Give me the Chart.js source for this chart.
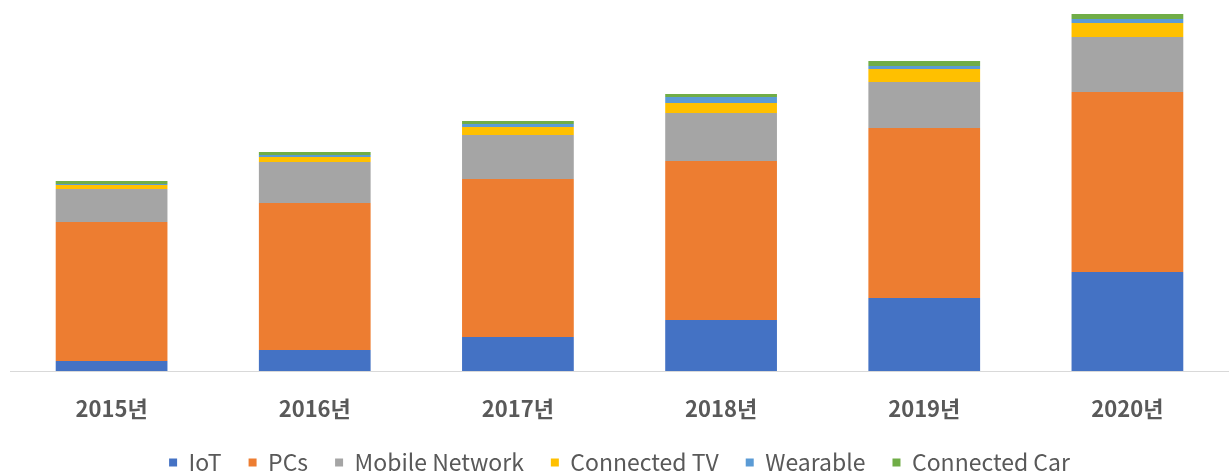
<!DOCTYPE html>
<html>
<head>
<meta charset="utf-8">
<script src="https://cdn.jsdelivr.net/npm/chart.js@4/dist/chart.umd.min.js"></script>
<style>
    html, body { margin: 0; padding: 0; background: #ffffff; }
    #wrap { width: 1229px; height: 475px; }
</style>
</head>
<body>
<div id="wrap"><canvas id="myChart"></canvas></div>
<script>
const labels = ['2015년', '2016년', '2017년', '2018년', '2019년', '2020년'];

const iot = [10, 21, 34, 51, 73, 99];
const pcs = [139, 147, 158, 159, 170, 180];
const mobile = [33, 41, 44, 48, 46, 55];
const connectedTv = [4, 5, 8, 10, 13, 14];
const wearable = [1, 2, 3, 6, 3, 4];
const connectedCar = [3, 3, 3, 3, 5, 5];

const textColor = '#595959';
const fontFamily = "'Noto Sans CJK KR', 'Noto Sans', sans-serif";

const data = {
    labels: labels,
    datasets: [
        { label: 'IoT', data: iot, backgroundColor: '#4472C4' },
        { label: 'PCs', data: pcs, backgroundColor: '#ED7D31' },
        { label: 'Mobile Network', data: mobile, backgroundColor: '#A5A5A5' },
        { label: 'Connected TV', data: connectedTv, backgroundColor: '#FFC000' },
        { label: 'Wearable', data: wearable, backgroundColor: '#5B9BD5' },
        { label: 'Connected Car', data: connectedCar, backgroundColor: '#70AD47' },
    ]
};

const config = {
    type: 'bar',
    data: data,
    options: {
        responsive: true,
        maintainAspectRatio: false,
        animation: false,
        layout: {
            padding: { top: 11, left: 10, right: 0, bottom: -9 }
        },
        datasets: {
            bar: {
                barPercentage: 0.55,
                categoryPercentage: 1.0,
                borderWidth: 0
            }
        },
        plugins: {
            tooltip: { enabled: false },
            legend: {
                position: 'bottom',
                labels: {
                    color: textColor,
                    boxWidth: 8,
                    boxHeight: 8,
                    padding: 27,
                    font: { family: fontFamily, size: 23 }
                }
            }
        },
        scales: {
            x: {
                stacked: true,
                grid: { display: false, drawTicks: false },
                border: { display: true, color: '#d9d9d9', width: 1 },
                ticks: {
                    color: textColor,
                    padding: 24,
                    font: { family: fontFamily, size: 22, weight: 'bold' }
                },
                afterFit: function(scale) {
                    scale.height = 53;
                }
            },
            y: {
                stacked: true,
                display: false,
                min: 0,
                max: 360
            }
        }
    }
};

const myChart = new Chart(
    document.getElementById('myChart'),
    config
);
</script>
</body>
</html>
